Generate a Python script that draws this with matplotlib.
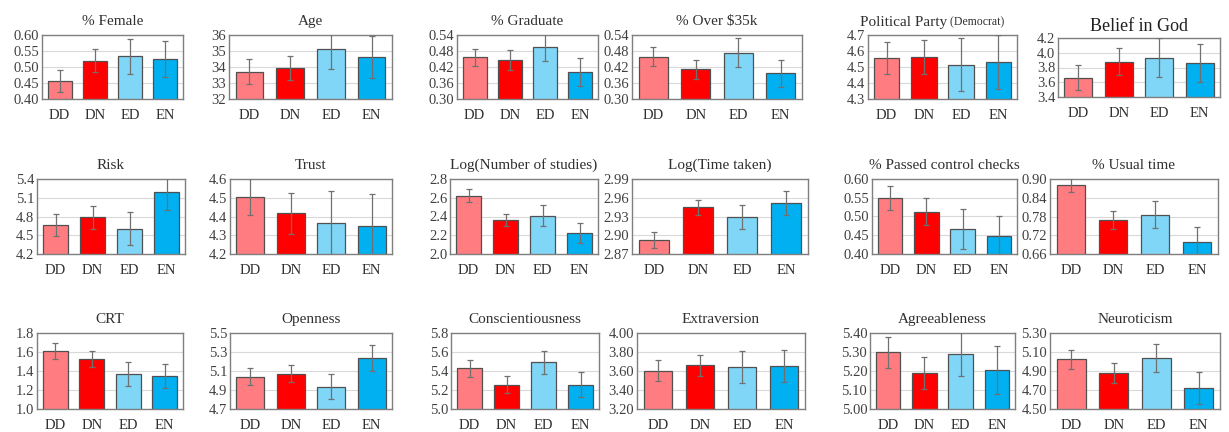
import matplotlib
matplotlib.use("Agg")
import matplotlib.pyplot as plt
import numpy as np

plt.rcParams['font.family'] = ['Liberation Serif', 'DejaVu Serif']

groups = ['DD', 'DN', 'ED', 'EN']
colors = ['#FF7C80', '#FF0000', '#7FD6F6', '#00B0F0']

titles = ['% Female', 'Age', '% Graduate', '% Over $35k', 'Political Party', 'Belief in God',
          'Risk', 'Trust', 'Log(Number of studies)', 'Log(Time taken)', '% Passed control checks', '% Usual time',
          'CRT', 'Openness', 'Conscientiousness', 'Extraversion', 'Agreeableness', 'Neuroticism']

# means per group (DD, DN, ED, EN)
female = [0.457, 0.520, 0.533, 0.525]
age = [33.71, 33.93, 35.10, 34.63]
graduate = [0.456, 0.446, 0.496, 0.402]
over35k = [0.459, 0.411, 0.474, 0.396]
party = [4.555, 4.562, 4.514, 4.530]
god = [3.66, 3.88, 3.935, 3.857]
risk = [4.67, 4.787, 4.605, 5.187]
trust = [4.506, 4.417, 4.364, 4.348]
log_studies = [2.622, 2.363, 2.409, 2.224]
log_time = [2.893, 2.9447, 2.9297, 2.9516]
passed = [0.549, 0.513, 0.466, 0.447]
usual = [0.882, 0.769, 0.786, 0.697]
crt = [1.611, 1.525, 1.370, 1.349]
openness = [5.042, 5.070, 4.936, 5.236]
consc = [5.430, 5.257, 5.493, 5.254]
extra = [3.605, 3.658, 3.640, 3.655]
agree = [5.298, 5.189, 5.292, 5.206]
neuro = [5.025, 4.877, 5.036, 4.718]

# error bar half-widths
female_err = [0.034, 0.035, 0.054, 0.055]
age_err = [0.77, 0.77, 1.24, 1.30]
graduate_err = [0.033, 0.036, 0.053, 0.053]
over35k_err = [0.035, 0.035, 0.055, 0.052]
party_err = [0.10, 0.105, 0.167, 0.167]
god_err = [0.17, 0.18, 0.27, 0.26]
risk_err = [0.175, 0.18, 0.26, 0.29]
trust_err = [0.10, 0.11, 0.17, 0.17]
log_studies_err = [0.067, 0.066, 0.11, 0.107]
log_time_err = [0.013, 0.012, 0.019, 0.0187]
passed_err = [0.033, 0.035, 0.053, 0.055]
usual_err = [0.022, 0.030, 0.043, 0.050]
crt_err = [0.082, 0.085, 0.13, 0.127]
openness_err = [0.088, 0.088, 0.13, 0.135]
consc_err = [0.088, 0.088, 0.12, 0.132]
extra_err = [0.115, 0.108, 0.17, 0.168]
agree_err = [0.081, 0.084, 0.12, 0.126]
neuro_err = [0.10, 0.106, 0.145, 0.17]

means = [female, age, graduate, over35k, party, god, risk, trust, log_studies, log_time, passed, usual,
         crt, openness, consc, extra, agree, neuro]
errs = [female_err, age_err, graduate_err, over35k_err, party_err, god_err, risk_err, trust_err,
        log_studies_err, log_time_err, passed_err, usual_err, crt_err, openness_err, consc_err,
        extra_err, agree_err, neuro_err]

# y tick ranges: (low, high, step, format)
yticks = [(0.40, 0.60, 0.05, '%.2f'), (32, 36, 1, '%.0f'), (0.30, 0.54, 0.06, '%.2f'),
          (0.30, 0.54, 0.06, '%.2f'), (4.3, 4.7, 0.1, '%.1f'), (3.4, 4.2, 0.2, '%.1f'),
          (4.2, 5.4, 0.3, '%.1f'), (4.2, 4.6, 0.1, '%.1f'), (2.0, 2.8, 0.2, '%.1f'),
          (2.87, 2.99, 0.03, '%.2f'), (0.40, 0.60, 0.05, '%.2f'), (0.66, 0.90, 0.06, '%.2f'),
          (1.0, 1.8, 0.2, '%.1f'), (4.7, 5.5, 0.2, '%.1f'), (5.0, 5.8, 0.2, '%.1f'),
          (3.20, 4.00, 0.2, '%.2f'), (5.00, 5.40, 0.1, '%.2f'), (4.50, 5.30, 0.2, '%.2f')]

# axes boxes in pixels: left, right, top, bottom
boxes = [(42, 183, 35, 99), (229, 392, 35, 99), (457, 598, 35, 99), (632, 802, 35, 99),
         (868, 1017, 35, 99), (1058, 1220, 38, 97),
         (37, 185, 179, 254), (230, 392, 179, 254), (450, 598, 179, 254), (632, 808, 179, 254),
         (872, 1017, 179, 254), (1050, 1218, 179, 254),
         (37, 183, 333, 409), (230, 392, 333, 409), (451, 599, 333, 409), (637, 805, 333, 409),
         (870, 1015, 333, 409), (1050, 1220, 333, 409)]

W, H = 1229, 432
fig = plt.figure(figsize=(W / 100, H / 100), dpi=100)

for i in range(18):
    l, r, t, b = boxes[i]
    ax = fig.add_axes([l / W, 1 - b / H, (r - l) / W, (b - t) / H])
    x = np.arange(4)
    ax.bar(x, means[i], width=0.68, color=colors, edgecolor='#505050', linewidth=0.9, zorder=2)
    ax.errorbar(x, means[i], yerr=errs[i], fmt='none', ecolor='#707070', elinewidth=0.9,
                capsize=2, capthick=0.9, zorder=3)
    lo, hi, step, fmt = yticks[i]
    ticks = np.arange(lo, hi + step / 2, step)
    ax.set_ylim(lo, hi)
    ax.set_yticks(ticks)
    ax.set_yticklabels([fmt % v for v in ticks], fontsize=10.5, color='#404040')
    ax.set_xlim(-0.5, 3.5)
    ax.set_xticks(x)
    ax.set_xticklabels(groups, fontsize=10.5, color='#303030')
    ax.tick_params(axis='y', length=0, pad=2)
    ax.tick_params(axis='x', length=0, pad=7)
    ax.yaxis.grid(True, color='#d9d9d9', linewidth=0.8, zorder=0)
    ax.set_axisbelow(True)
    for s in ax.spines.values():
        s.set_color('#7f7f7f')
        s.set_linewidth(1.0)
    if i == 4:
        ax.text(0.53, 1.1, 'Political Party', transform=ax.transAxes, ha='right', va='bottom',
                fontsize=11, color='#303030')
        ax.text(0.53, 1.1, ' (Democrat)', transform=ax.transAxes, ha='left', va='bottom',
                fontsize=8.5, color='#303030')
    elif i == 5:
        ax.set_title(titles[i], fontsize=13, color='#202020', pad=5)
    else:
        ax.set_title(titles[i], fontsize=11, color='#303030', pad=7)

fig.savefig('out.png', dpi=100, facecolor='white')
